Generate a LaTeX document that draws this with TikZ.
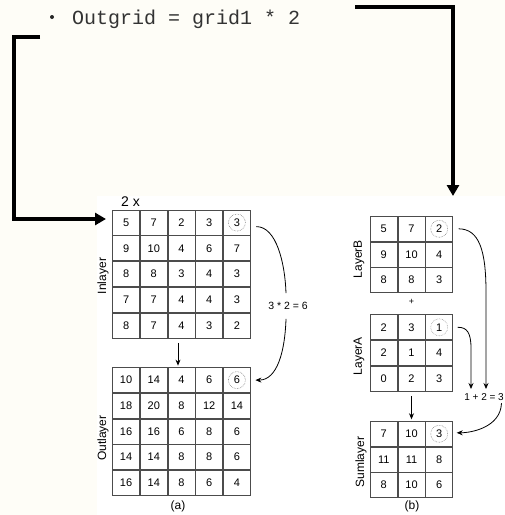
\documentclass[tikz,border=0pt]{standalone}
\usepackage{fontspec}
\setmainfont{Liberation Sans}
\newfontfamily\codefont{Liberation Mono}
\usetikzlibrary{matrix,arrows.meta}
\definecolor{cream}{RGB}{254,253,247}
\begin{document}
\begin{tikzpicture}[x=1pt,y=-1pt,
  gridm/.style={matrix of nodes, inner sep=0pt, outer sep=0pt, column sep=0pt, row sep=0pt,
    nodes={draw=black!70, line width=0.7pt, minimum width=27pt, minimum height=25pt,
      inner sep=0pt, outer sep=0pt, anchor=center, font=\fontsize{11}{11}\selectfont}},
  ring/.style={circle, draw=black!50, densely dotted, line width=0.6pt, minimum size=17pt, inner sep=0pt},
  conn/.style={line width=0.8pt, -{Stealth[length=6pt,width=5pt]}},
  plain/.style={line width=0.8pt},
  bracket/.style={line width=3.5pt, -{Triangle[length=11pt,width=12pt]}},
  lbl/.style={font=\fontsize{12}{12}\selectfont},
  eq/.style={font=\fontsize{10.5}{10.5}\selectfont, inner sep=1pt}]
\useasboundingbox (0,0) rectangle (505,515);
\fill[cream] (0,0) rectangle (505,515);
\fill[white] (97,196) rectangle (505,515);

% title
\fill[black!85] (52,17) circle (2pt);
\node[anchor=base west, inner sep=0pt, text=black!80, font=\codefont\fontsize{20}{20}\selectfont] (title) at (72,24) {Outgrid = grid1 * 2};

% brackets
\coordinate (l0) at (40,37);
\coordinate (l1) at (14,37);
\coordinate (l2) at (14,219);
\coordinate (l3) at (106,219);
\draw[bracket] (l0) -- (l1) -- (l2) -- (l3);
\coordinate (r0) at (355,7);
\coordinate (r1) at (453,7);
\coordinate (r2) at (453,196);
\draw[bracket] (r0) -- (r1) -- (r2);

% grid (a)
\node[anchor=west, font=\fontsize{14}{14}\selectfont, inner sep=0pt] (two) at (121,202) {2 x};
\matrix[gridm] (in) at (181.5,274) {
5 & 7 & 2 & 3 & 3 \\
9 & 10 & 4 & 6 & 7 \\
8 & 8 & 3 & 4 & 3 \\
7 & 7 & 4 & 4 & 3 \\
8 & 7 & 4 & 3 & 2 \\
};
\matrix[gridm] (out) at (181.5,431.5) {
10 & 14 & 4 & 6 & 6 \\
18 & 20 & 8 & 12 & 14 \\
16 & 16 & 6 & 8 & 6 \\
14 & 14 & 8 & 8 & 6 \\
16 & 14 & 8 & 6 & 4 \\
};
\node[ring] (cin) at (in-1-5) {};
\node[ring] (cout) at (out-1-5) {};
\node[lbl, rotate=90] (lin) at (103,276) {Inlayer};
\node[lbl, rotate=90] (lout) at (103,438) {Outlayer};
\node[lbl] (capa) at (178,506) {(a)};
\draw[conn] ([xshift=-3.5pt,yshift=-5pt]in-5-3.south) -- ([xshift=-3.5pt,yshift=2pt]out-1-3.north);
\node[eq] (lab1) at (288,306) {3 * 2 = 6};
\draw[plain] ([xshift=6pt,yshift=-4pt]in-1-5.east) .. controls +(20,0) and +(-1,-30) .. ([xshift=-2pt,yshift=8pt]lab1.north);
\draw[conn] ([xshift=-2pt,yshift=-8pt]lab1.south) .. controls +(-1,32) and +(22,0) .. ([xshift=5pt]out-1-5.east);

% grids (b)
\matrix[gridm] (lb) at (411.5,254.5) {
5 & 7 & 2 \\
9 & 10 & 4 \\
8 & 8 & 3 \\
};
\matrix[gridm] (la) at (411.5,353) {
2 & 3 & 1 \\
2 & 1 & 4 \\
0 & 2 & 3 \\
};
\matrix[gridm] (sum) at (411.5,459.5) {
7 & 10 & 3 \\
11 & 11 & 8 \\
8 & 10 & 6 \\
};
\node[ring] (clb) at (lb-1-3) {};
\node[ring, densely dotted=false, draw=black!40] (cla) at (la-1-3) {};
\node[ring] (csum) at (sum-1-3) {};
\node[font=\fontsize{9}{9}\selectfont, inner sep=0pt] (plus) at (411.5,302) {+};
\node[lbl, rotate=90] (llb) at (359,259) {LayerB};
\node[lbl, rotate=90] (lla) at (359,356) {LayerA};
\node[lbl, rotate=90] (lsum) at (361,462) {Sumlayer};
\node[lbl] (capb) at (412,506) {(b)};
\draw[conn] ([yshift=-5pt]la-3-2.south) -- ([yshift=2pt]sum-1-2.north);
\node[eq, anchor=east, font=\fontsize{10}{10}\selectfont, inner sep=0.5pt] (lab2) at (504.5,397) {1 + 2 = 3};
\coordinate (t1) at (471,389);
\coordinate (t2) at (486,389);
\draw[conn] ([xshift=6pt]lb-1-3.east) .. controls (479,229) and (486,250) .. (486,292) -- (t2);
\draw[conn] ([xshift=5pt]la-1-3.east) .. controls (467,327) and (471,333) .. (471,348) -- (t1);
\draw[conn] ([xshift=-3pt,yshift=-2pt]lab2.south east) .. controls +(-1,24) and +(15,0) .. ([xshift=4pt,yshift=1pt]sum-1-3.east);
\end{tikzpicture}
\end{document}
